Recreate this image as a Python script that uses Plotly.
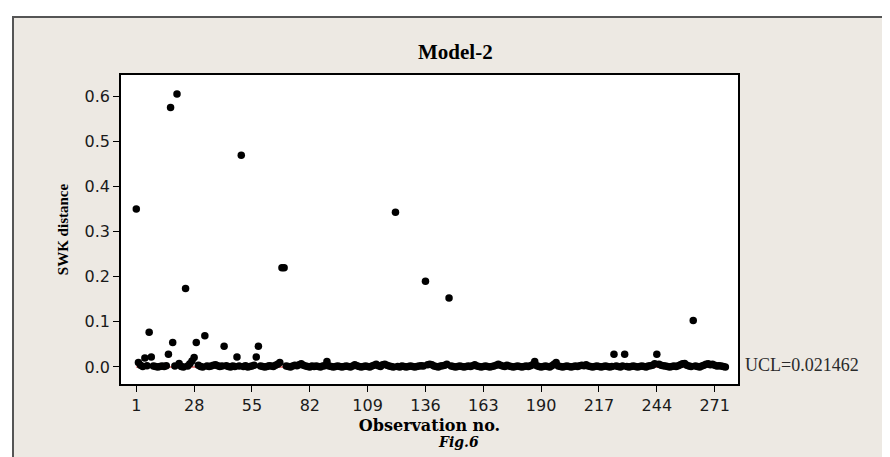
import plotly.graph_objects as go

# ---- data ----
swk_distance = [
    0.350, 0.010, 0.004, 0.001, 0.020, 0.003, 0.077, 0.022, 0.002, 0.001,
    0.000, 0.001, 0.002, 0.001, 0.003, 0.028, 0.575, 0.054, 0.002, 0.605,
    0.008, 0.001, 0.000, 0.174, 0.002, 0.007, 0.013, 0.021, 0.054, 0.004,
    0.001, 0.000, 0.069, 0.002, 0.001, 0.002, 0.004, 0.005, 0.003, 0.001,
    0.002, 0.046, 0.003, 0.001, 0.000, 0.002, 0.001, 0.022, 0.002, 0.469,
    0.001, 0.003, 0.000, 0.001, 0.002, 0.004, 0.022, 0.046, 0.002, 0.001,
    0.000, 0.001, 0.003, 0.002, 0.001, 0.004, 0.006, 0.010, 0.220, 0.220,
    0.002, 0.001, 0.000, 0.002, 0.004, 0.003, 0.005, 0.007, 0.004, 0.002,
    0.001, 0.000, 0.002, 0.001, 0.002, 0.001, 0.000, 0.002, 0.003, 0.012,
    0.002, 0.001, 0.000, 0.001, 0.002, 0.001, 0.000, 0.001, 0.002, 0.001,
    0.000, 0.002, 0.005, 0.003, 0.001, 0.000, 0.001, 0.002, 0.001, 0.000,
    0.002, 0.004, 0.006, 0.003, 0.001, 0.005, 0.006, 0.004, 0.002, 0.001,
    0.000, 0.343, 0.001, 0.000, 0.002, 0.001, 0.000, 0.001, 0.002, 0.001,
    0.000, 0.001, 0.002, 0.003, 0.002, 0.190, 0.005, 0.006, 0.005, 0.002,
    0.001, 0.000, 0.002, 0.003, 0.004, 0.006, 0.153, 0.002, 0.001, 0.000,
    0.001, 0.002, 0.001, 0.000, 0.001, 0.002, 0.001, 0.003, 0.005, 0.002,
    0.001, 0.000, 0.001, 0.002, 0.001, 0.000, 0.001, 0.002, 0.004, 0.006,
    0.004, 0.002, 0.001, 0.004, 0.002, 0.001, 0.000, 0.001, 0.002, 0.001,
    0.000, 0.001, 0.002, 0.001, 0.003, 0.005, 0.012, 0.003, 0.001, 0.000,
    0.001, 0.002, 0.001, 0.000, 0.003, 0.006, 0.010, 0.002, 0.001, 0.000,
    0.001, 0.002, 0.001, 0.000, 0.001, 0.002, 0.001, 0.003, 0.004, 0.003,
    0.005, 0.002, 0.001, 0.000, 0.001, 0.002, 0.001, 0.000, 0.001, 0.002,
    0.001, 0.000, 0.001, 0.028, 0.002, 0.001, 0.000, 0.002, 0.028, 0.001,
    0.000, 0.001, 0.002, 0.001, 0.000, 0.001, 0.002, 0.001, 0.000, 0.002,
    0.003, 0.004, 0.007, 0.028, 0.006, 0.004, 0.003, 0.002, 0.001, 0.000,
    0.001, 0.002, 0.001, 0.003, 0.005, 0.007, 0.008, 0.004, 0.002, 0.001,
    0.103, 0.002, 0.001, 0.000, 0.002, 0.004, 0.006, 0.007, 0.005, 0.006,
    0.004, 0.002, 0.003, 0.002, 0.001, 0.000,
]
observation = list(range(1, len(swk_distance) + 1))

x_tick_values = [1, 28, 55, 82, 109, 136, 163, 190, 217, 244, 271]
y_tick_values = [0.0, 0.1, 0.2, 0.3, 0.4, 0.5, 0.6]

ucl_value = 0.021462
ucl_line_level = 0.0          # where the red reference line is drawn in the picture
ucl_label = "UCL=0.021462"

title_text = "Model-2"
x_title = "Observation no."
y_title = "SWK distance"
caption = "Fig.6"

# ---- layout geometry ----
W, H = 890, 457
L, R, T, B = 113, 160, 67, 81
PW, PH = W - L - R, H - T - B

def px_x(p):
    return (p - L) / PW

def px_y(p):
    return (H - B - p) / PH

BEIGE = "#EDE9E3"

fig = go.Figure()

# red UCL reference line (behind points)
fig.add_trace(go.Scatter(
    x=[observation[0], observation[-1]], y=[ucl_line_level, ucl_line_level],
    mode="lines", line=dict(color="#CC0000", width=1), hoverinfo="skip",
    showlegend=False,
))

fig.add_trace(go.Scatter(
    x=observation, y=swk_distance, mode="markers",
    marker=dict(color="black", size=7.5, line=dict(width=0)),
    showlegend=False,
))

axis_font = dict(family="DejaVu Sans", size=16, color="#1a1a1a")

fig.update_xaxes(
    range=[-6.14, 281.9], tickvals=x_tick_values,
    ticks="outside", ticklen=6, tickwidth=1, tickcolor="black",
    showline=True, linecolor="black", linewidth=1.5, mirror=True,
    showgrid=False, zeroline=False, tickfont=axis_font,
    title=dict(text=f"<b>{x_title}</b>",
               font=dict(family="DejaVu Serif", size=16, color="black"),
               standoff=6),
)
fig.update_yaxes(
    range=[-0.0377, 0.647], tickvals=y_tick_values, tickformat=".1f",
    ticks="outside", ticklen=6, tickwidth=1, tickcolor="black",
    showline=True, linecolor="black", linewidth=1.5, mirror=True,
    showgrid=False, zeroline=False, tickfont=axis_font,
    title=dict(text=f"<b>{y_title}</b>",
               font=dict(family="Liberation Serif", size=15, color="black"),
               standoff=12),
)

annotations = [
    dict(text=f"<b>{title_text}</b>", x=px_x(447), y=px_y(44), xref="paper", yref="paper",
         showarrow=False, xanchor="center", yanchor="middle",
         font=dict(family="Liberation Serif", size=21, color="black")),
    dict(text=f"<b><i>{caption}</i></b>", x=px_x(450), y=px_y(434), xref="paper", yref="paper",
         showarrow=False, xanchor="center", yanchor="middle",
         font=dict(family="DejaVu Serif", size=14, color="black")),
    dict(text=ucl_label, x=px_x(735), y=ucl_line_level, xref="paper", yref="y",
         showarrow=False, xanchor="left", yanchor="middle", yshift=2,
         font=dict(family="Liberation Serif", size=18, color="#2a2a2a")),
]

shapes = [
    # white strips outside the beige frame
    dict(type="rect", xref="paper", yref="paper", x0=px_x(-5), x1=px_x(W + 5),
         y0=px_y(-5), y1=px_y(8), fillcolor="white", line=dict(width=0), layer="above"),
    dict(type="rect", xref="paper", yref="paper", x0=px_x(-5), x1=px_x(4),
         y0=px_y(-5), y1=px_y(H + 5), fillcolor="white", line=dict(width=0), layer="above"),
    # frame border
    dict(type="rect", xref="paper", yref="paper", x0=px_x(5), x1=px_x(W + 10),
         y0=px_y(H + 10), y1=px_y(9), fillcolor="rgba(0,0,0,0)",
         line=dict(color="#555555", width=2), layer="above"),
]

fig.update_layout(
    width=W, height=H,
    margin=dict(l=L, r=R, t=T, b=B),
    paper_bgcolor=BEIGE, plot_bgcolor="white",
    annotations=annotations, shapes=shapes,
    showlegend=False,
)

fig.write_html("out.html")
